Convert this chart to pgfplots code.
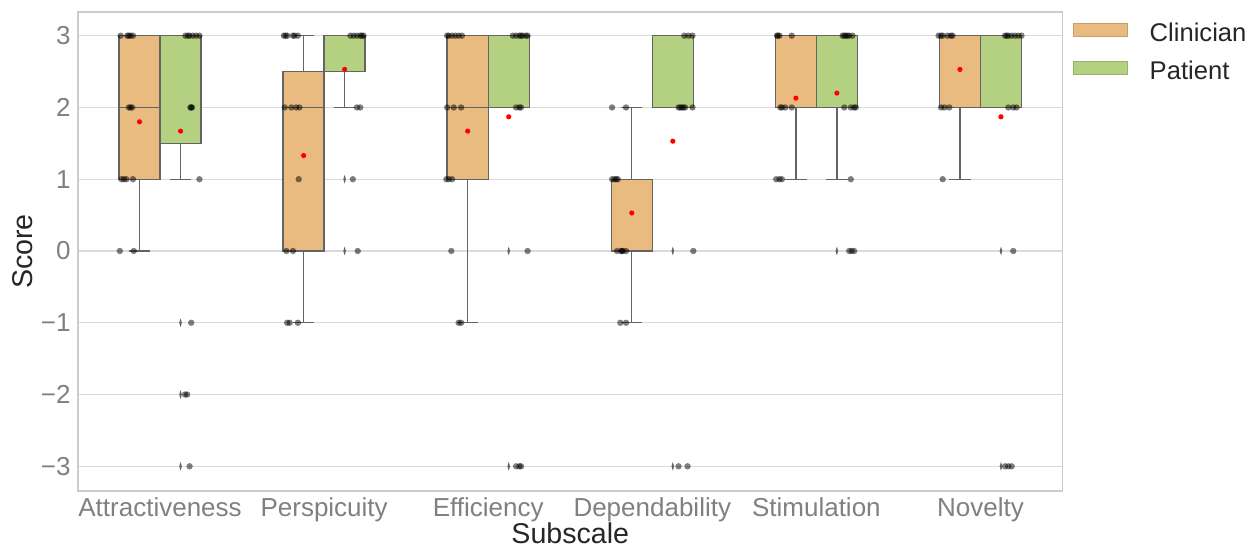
\documentclass[border=0pt]{standalone}
\usepackage{pgfplots}
\pgfplotsset{compat=1.18}
\usepgfplotslibrary{statistics}
\usepackage{fontspec}
\setmainfont{Liberation Sans}
\definecolor{clin}{RGB}{234,187,128}
\definecolor{pat}{RGB}{179,209,128}
\definecolor{boxedge}{RGB}{100,100,100}
\definecolor{gridc}{RGB}{218,218,218}
\definecolor{framec}{RGB}{204,204,204}
\definecolor{tickc}{RGB}{128,128,128}
\definecolor{labc}{RGB}{38,38,38}
\definecolor{flierc}{RGB}{100,100,100}
\begin{document}
\begin{tikzpicture}
\begin{axis}[
  scale only axis, width=492.25bp, height=239.5bp,
  xmin=-0.5, xmax=5.5, ymin=-3.344, ymax=3.33,
  xtick={0,1,2,3,4,5},
  xticklabels={Attractiveness,Perspicuity,Efficiency,Dependability,Stimulation,Novelty},
  ytick={-3,-2,-1,0,1,2,3},
  yticklabels={−3,−2,−1,0,1,2,3},
  major tick length=0pt,
  ymajorgrids, grid style={color=gridc, line width=0.6bp},
  axis line style={color=framec, line width=0.6bp},
  ticklabel style={font=\fontsize{13bp}{15bp}\selectfont, color=tickc},
  xticklabel style={anchor=base, inner sep=0pt, yshift=-12.5bp},
  yticklabel style={anchor=east, inner sep=0pt, xshift=-3.5bp},
  xlabel={Subscale}, ylabel={Score},
  every axis x label/.style={at={(axis description cs:0.5,0)}, anchor=base, yshift=-26bp, inner sep=0pt, font=\fontsize{14.3bp}{16bp}\selectfont, text=labc},
  every axis y label/.style={at={(axis description cs:-0.04573,0.5)}, rotate=90, anchor=base, inner sep=0pt, font=\fontsize{14.3bp}{16bp}\selectfont, text=labc},
  legend style={at={(axis description cs:1,1)}, anchor=north west, xshift=5.25bp, yshift=-5.5bp,
    draw=none, fill=none, inner sep=0pt, outer sep=0pt, row sep=8bp,
    font=\fontsize{12.8bp}{15bp}\selectfont, text=labc,
    nodes={inner sep=0pt}},
  legend cell align=left,
  boxplot/draw direction=y,
]
\addlegendimage{legend image code/.code={\draw[fill=clin, draw=clin!85!black, line width=0.3bp] (0bp,-1.3bp) rectangle (27bp,5bp); \path (38bp,0bp);}}
\addlegendentry{Clinician}
\addlegendimage{legend image code/.code={\draw[fill=pat, draw=pat!85!black, line width=0.3bp] (0bp,-1.3bp) rectangle (27bp,5bp); \path (38bp,0bp);}}
\addlegendentry{Patient}

% ---- Clinician boxes ----
\addplot[forget plot, fill=clin, draw=boxedge, line width=0.7bp, boxplot prepared={draw position=-0.125, lower whisker=0, lower quartile=1, median=2, upper quartile=3, upper whisker=3, box extend=0.25, whisker extend=0.13}] coordinates {};
\addplot[forget plot, fill=clin, draw=boxedge, line width=0.7bp, boxplot prepared={draw position=0.875, lower whisker=-1, lower quartile=0, median=2, upper quartile=2.5, upper whisker=3, box extend=0.25, whisker extend=0.13}] coordinates {};
\addplot[forget plot, fill=clin, draw=boxedge, line width=0.7bp, boxplot prepared={draw position=1.875, lower whisker=-1, lower quartile=1, median=2, upper quartile=3, upper whisker=3, box extend=0.25, whisker extend=0.13}] coordinates {};
\addplot[forget plot, fill=clin, draw=boxedge, line width=0.7bp, boxplot prepared={draw position=2.875, lower whisker=-1, lower quartile=0, median=1, upper quartile=1, upper whisker=2, box extend=0.25, whisker extend=0.13}] coordinates {};
\addplot[forget plot, fill=clin, draw=boxedge, line width=0.7bp, boxplot prepared={draw position=3.875, lower whisker=1, lower quartile=2, median=2, upper quartile=3, upper whisker=3, box extend=0.25, whisker extend=0.13}] coordinates {};
\addplot[forget plot, fill=clin, draw=boxedge, line width=0.7bp, boxplot prepared={draw position=4.875, lower whisker=1, lower quartile=2, median=3, upper quartile=3, upper whisker=3, box extend=0.25, whisker extend=0.13}] coordinates {};
% ---- Patient boxes ----
\addplot[forget plot, fill=pat, draw=boxedge, line width=0.7bp, boxplot prepared={draw position=0.125, lower whisker=1, lower quartile=1.5, median=3, upper quartile=3, upper whisker=3, box extend=0.25, whisker extend=0.13}] coordinates {};
\addplot[forget plot, fill=pat, draw=boxedge, line width=0.7bp, boxplot prepared={draw position=1.125, lower whisker=2, lower quartile=2.5, median=3, upper quartile=3, upper whisker=3, box extend=0.25, whisker extend=0.13}] coordinates {};
\addplot[forget plot, fill=pat, draw=boxedge, line width=0.7bp, boxplot prepared={draw position=2.125, lower whisker=2, lower quartile=2, median=3, upper quartile=3, upper whisker=3, box extend=0.25, whisker extend=0.13}] coordinates {};
\addplot[forget plot, fill=pat, draw=boxedge, line width=0.7bp, boxplot prepared={draw position=3.125, lower whisker=2, lower quartile=2, median=2, upper quartile=3, upper whisker=3, box extend=0.25, whisker extend=0.13}] coordinates {};
\addplot[forget plot, fill=pat, draw=boxedge, line width=0.7bp, boxplot prepared={draw position=4.125, lower whisker=1, lower quartile=2, median=2, upper quartile=3, upper whisker=3, box extend=0.25, whisker extend=0.13}] coordinates {};
\addplot[forget plot, fill=pat, draw=boxedge, line width=0.7bp, boxplot prepared={draw position=5.125, lower whisker=2, lower quartile=2, median=3, upper quartile=3, upper whisker=3, box extend=0.25, whisker extend=0.13}] coordinates {};

% ---- fliers ----
\addplot[forget plot, only marks, color=flierc, mark=diamond*, mark size=2.2bp, mark options={xscale=0.4, draw opacity=0, fill=flierc}] coordinates {
(0.125,-1)(0.125,-2)(0.125,-3)
(1.125,1)(1.125,0)
(2.125,0)(2.125,-3)
(3.125,0)(3.125,-3)
(4.125,0)
(5.125,0)(5.125,-3)
};

% ---- strip points (Clinician) ----
\addplot[forget plot, only marks, color=black, mark=*, mark size=1.6bp, mark options={draw opacity=0, fill=black, fill opacity=0.5}] coordinates {
(-0.24,3)(-0.20,3)(-0.19,3)(-0.18,3)(-0.165,3)(-0.19,2)(-0.17,2)(-0.18,2)(-0.235,1)(-0.22,1)(-0.205,1)(-0.165,1)(-0.245,0)(-0.16,0)
(0.755,3)(0.765,3)(0.775,3)(0.81,3)(0.82,3)(0.84,3)(0.76,2)(0.80,2)(0.83,2)(0.85,2)(0.845,1)(0.77,0)(0.81,0)(0.775,-1)(0.79,-1)(0.84,-1)
(1.75,3)(1.76,3)(1.78,3)(1.80,3)(1.82,3)(1.84,3)(1.75,2)(1.79,2)(1.835,2)(1.745,1)(1.76,1)(1.78,1)(1.775,0)(1.82,-1)(1.835,-1)
(2.755,2)(2.84,2)(2.755,1)(2.77,1)(2.78,1)(2.79,1)(2.785,0)(2.81,0)(2.815,0)(2.82,0)(2.84,0)(2.805,-1)(2.84,-1)
(3.76,3)(3.765,3)(3.775,3)(3.85,3)(3.78,2)(3.79,2)(3.81,2)(3.85,2)(3.755,1)(3.775,1)(3.79,1)
(4.745,3)(4.76,3)(4.77,3)(4.8,3)(4.82,3)(4.83,3)(4.76,2)(4.78,2)(4.81,2)(4.77,1)
};
% ---- strip points (Patient) ----
\addplot[forget plot, only marks, color=black, mark=*, mark size=1.6bp, mark options={draw opacity=0, fill=black, fill opacity=0.5}] coordinates {
(0.155,3)(0.17,3)(0.18,3)(0.2,3)(0.22,3)(0.24,3)(0.19,2)(0.195,2)(0.185,2)(0.24,1)(0.19,-1)(0.152,-2)(0.165,-2)(0.18,-3)
(1.16,3)(1.18,3)(1.2,3)(1.22,3)(1.23,3)(1.24,3)(1.2,2)(1.22,2)(1.175,1)(1.205,0)
(2.15,3)(2.17,3)(2.19,3)(2.2,3)(2.21,3)(2.23,3)(2.24,3)(2.17,2)(2.19,2)(2.2,2)(2.24,0)(2.17,-3)(2.19,-3)(2.2,-3)
(3.195,3)(3.22,3)(3.245,3)(3.16,2)(3.17,2)(3.18,2)(3.19,2)(3.2,2)(3.245,2)(3.25,0)(3.16,-3)(3.215,-3)
(4.16,3)(4.17,3)(4.18,3)(4.19,3)(4.2,3)(4.22,3)(4.17,2)(4.21,2)(4.23,2)(4.24,2)(4.21,1)(4.2,0)(4.215,0)(4.23,0)
(5.15,3)(5.16,3)(5.17,3)(5.19,3)(5.21,3)(5.23,3)(5.25,3)(5.17,2)(5.2,2)(5.22,2)(5.2,0)(5.15,-3)(5.17,-3)(5.19,-3)
};

% ---- means ----
\addplot[forget plot, only marks, color=red, mark=*, mark size=1.3bp, mark options={draw opacity=0, fill=red}] coordinates {
(-0.125,1.8)(0.875,1.33)(1.875,1.67)(2.875,0.53)(3.875,2.13)(4.875,2.53)
(0.125,1.67)(1.125,2.53)(2.125,1.87)(3.125,1.53)(4.125,2.2)(5.125,1.87)
};

\coordinate (SW) at (rel axis cs:0,0);
\coordinate (NE) at (rel axis cs:1,1);
\end{axis}
\pgfresetboundingbox
\path[use as bounding box] ([shift={(-39bp,-28bp)}]SW) rectangle ([shift={(92.75bp,6bp)}]NE);
\end{tikzpicture}
\end{document}
